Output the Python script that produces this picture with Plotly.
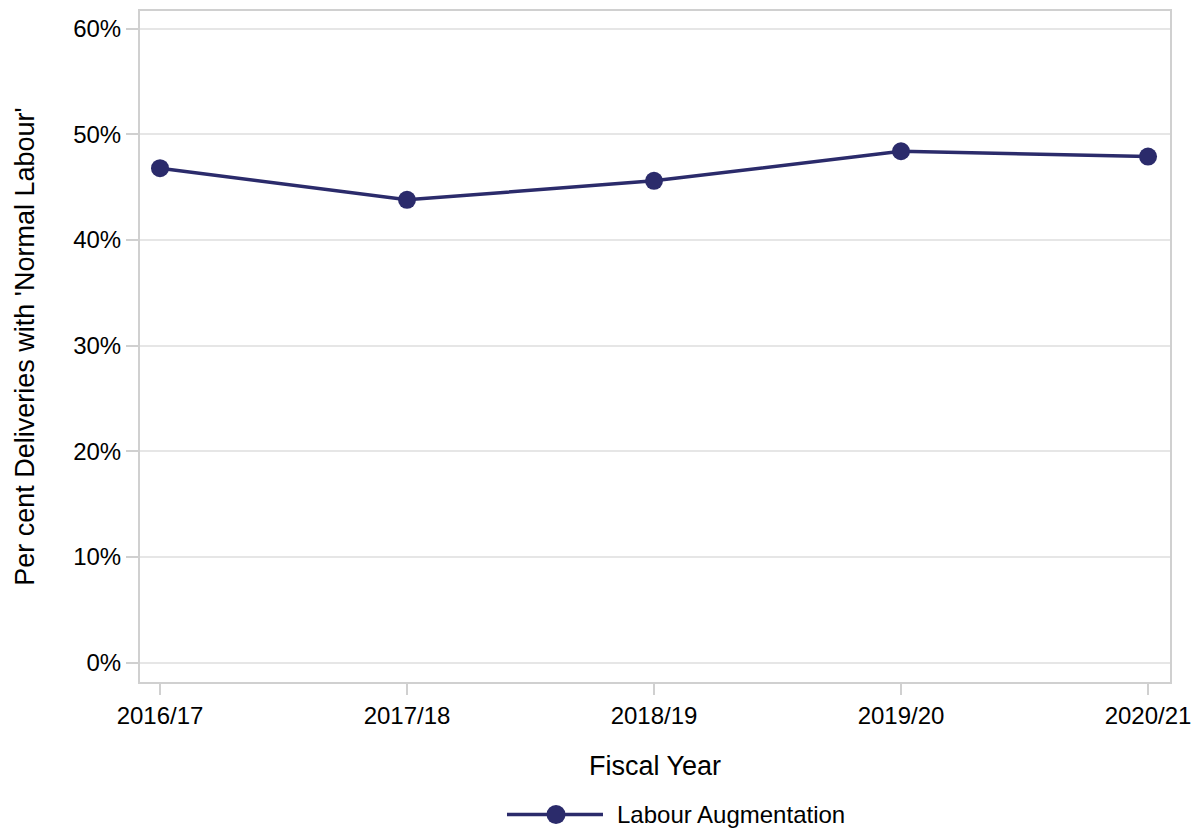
import plotly.graph_objects as go

years = ["2016/17", "2017/18", "2018/19", "2019/20", "2020/21"]
labour_aug = [46.8, 43.8, 45.6, 48.4, 47.9]
y_ticks = [0, 10, 20, 30, 40, 50, 60]
y_ticklabels = [f"{v}%" for v in y_ticks]
series_name = "Labour Augmentation"
x_title = "Fiscal Year"
y_title = "Per cent Deliveries with 'Normal Labour'"

color = "#2b2b6b"
font = "Liberation Sans, Arial, sans-serif"

fig = go.Figure()
fig.add_trace(go.Scatter(
    x=list(range(len(years))), y=labour_aug, mode="lines+markers",
    name=series_name, showlegend=False,
    line=dict(color=color, width=3.5),
    marker=dict(color=color, size=18),
))

# x-axis title
fig.add_annotation(text=x_title, xref="paper", yref="paper",
                   x=0.5, y=-0.1248, xanchor="center", yanchor="middle",
                   showarrow=False, font=dict(size=27, color="#000"))

# custom legend (long line sample with marker in the middle)
leg_y = -0.1976
fig.add_shape(type="line", xref="paper", yref="paper",
              x0=0.3563, x1=0.4495, y0=leg_y, y1=leg_y,
              line=dict(color=color, width=3.5))
fig.add_shape(type="circle", xref="paper", yref="paper",
              xsizemode="pixel", ysizemode="pixel",
              xanchor=0.4039, yanchor=leg_y,
              x0=-9.5, x1=9.5, y0=-9.5, y1=9.5,
              fillcolor=color, line=dict(color=color, width=0))
fig.add_annotation(text=series_name, xref="paper", yref="paper",
                   x=0.4612, y=leg_y, xanchor="left", yanchor="middle",
                   showarrow=False, font=dict(size=24, color="#000"))

fig.update_layout(
    width=1196, height=823,
    margin=dict(l=132, r=34, t=1, b=149),
    paper_bgcolor="white", plot_bgcolor="white",
    font=dict(family=font, size=24, color="#000"),
    showlegend=False,
    xaxis=dict(
        tickmode="array", tickvals=list(range(len(years))), ticktext=years,
        range=[-0.081, 4.089], showgrid=False, zeroline=False,
        showline=True, linecolor="#d0d0d0", linewidth=2, mirror=True,
        ticks="outside", ticklen=11, tickcolor="#d0d0d0", tickwidth=2,
        tickfont=dict(size=24),
    ),
    yaxis=dict(
        range=[-1.82, 61.67], tickmode="array", tickvals=y_ticks, ticktext=y_ticklabels,
        showgrid=True, gridcolor="#e6e6e6", gridwidth=2,
        zeroline=False,
        showline=True, linecolor="#d0d0d0", linewidth=2, mirror=True,
        ticks="outside", ticklen=12, tickcolor="#d0d0d0", tickwidth=2,
        title=dict(text=y_title, font=dict(size=27), standoff=31),
        tickfont=dict(size=24),
    ),
)

fig.write_html("out.html")
